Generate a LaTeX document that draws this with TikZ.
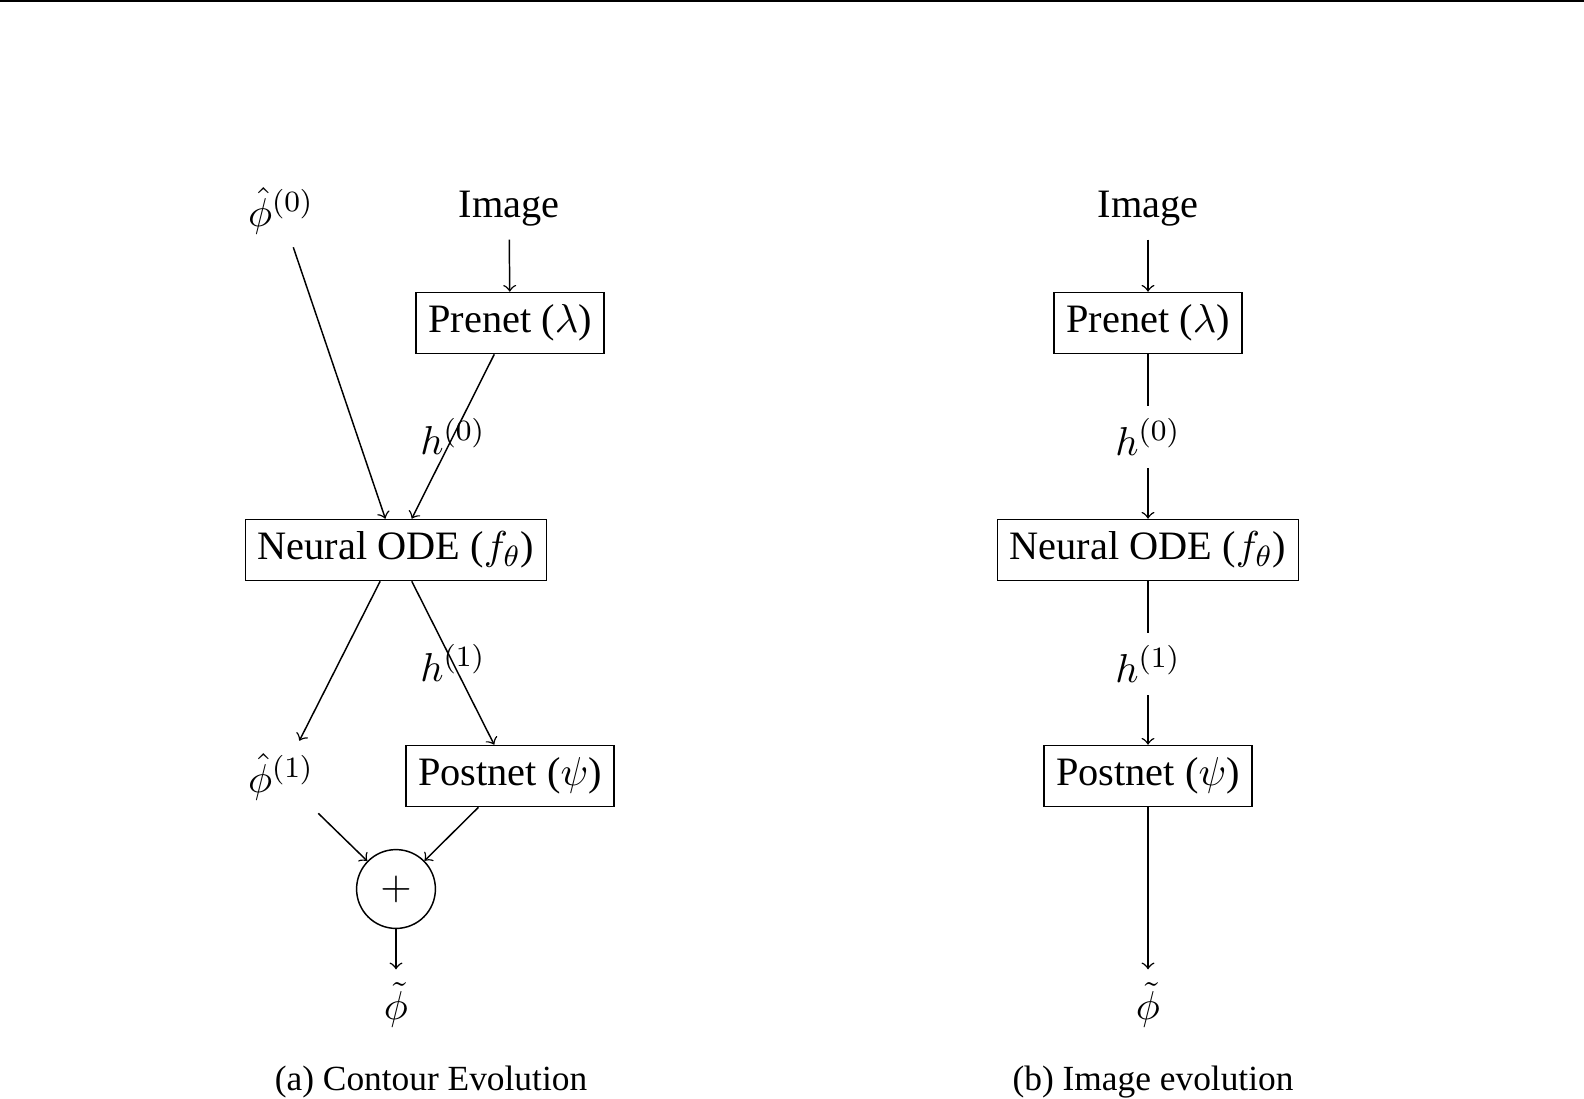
\documentclass[tikz,border=0pt]{standalone}
\usepackage[no-math]{fontspec}
\setmainfont{Liberation Serif}
\begin{document}
\begin{tikzpicture}[x=0.27147pt,y=-0.27147pt,
  every node/.style={font=\fontsize{10.95pt}{13pt}\selectfont},
  box/.style={draw, minimum height=16.6pt, inner xsep=3.3pt, inner ysep=2pt},
  capt/.style={font=\fontsize{9.6pt}{12pt}\selectfont},
  sumnode/.style={draw, circle, minimum size=21.4pt, inner sep=0pt}]
\useasboundingbox (0,0) rectangle (1584,1098);
\draw[line width=0.6pt] (0,1) -- (1584,1);
% (a) contour evolution
\node (phiA0) at (281,211) {$\hat{\phi}^{(0)}$};
\node (imgA) at (509,209) {Image};
\node[box] (preA) at (510,323) {Prenet ($\lambda$)};
\node[box] (odeA) at (396,550) {Neural ODE ($f_\theta$)};
\node (phiA1) at (281,777) {$\hat{\phi}^{(1)}$};
\node[box] (postA) at (510,776) {Postnet ($\psi$)};
\node[sumnode] (sumA) at (396,889) {$+$};
\node (outA) at (396,1005) {$\tilde{\phi}$};
\node[capt] (capA) at (431,1082) {(a) Contour Evolution};
\draw[->] (phiA0) -- (odeA);
\draw[->] (imgA) -- (preA);
\draw[->] (preA) -- node {$h^{(0)}$} (odeA);
\draw[->] (odeA) -- (phiA1);
\draw[->] (odeA) -- node {$h^{(1)}$} (postA);
\draw[->] (phiA1) -- (sumA);
\draw[->] (postA) -- (sumA);
\draw[->] (sumA) -- (outA);
% (b) image evolution
\node (imgB) at (1148,209) {Image};
\node[box] (preB) at (1148,323) {Prenet ($\lambda$)};
\node (hB0) at (1148,437) {$h^{(0)}$};
\node[box] (odeB) at (1148,550) {Neural ODE ($f_\theta$)};
\node (hB1) at (1148,664) {$h^{(1)}$};
\node[box] (postB) at (1148,776) {Postnet ($\psi$)};
\node (outB) at (1148,1005) {$\tilde{\phi}$};
\node[capt] (capB) at (1153,1082) {(b) Image evolution};
\draw[->] (imgB) -- (preB);
\draw (preB) -- (hB0);
\draw[->] (hB0) -- (odeB);
\draw (odeB) -- (hB1);
\draw[->] (hB1) -- (postB);
\draw[->] (postB) -- (outB);
\end{tikzpicture}
\end{document}
